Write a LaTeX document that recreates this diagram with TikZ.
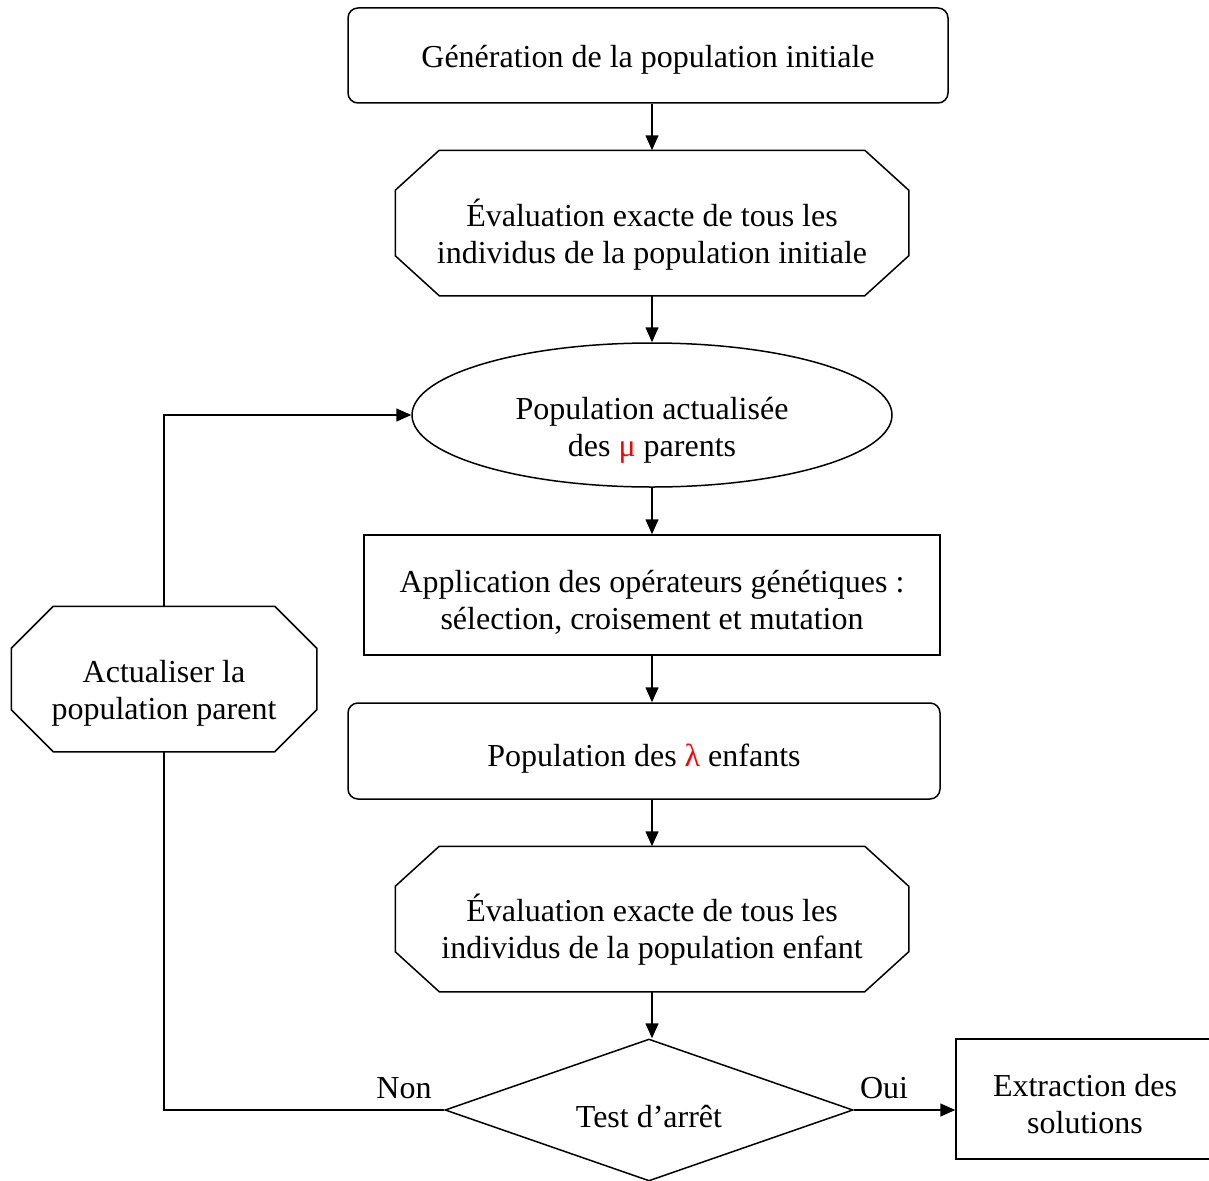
\documentclass[tikz,border=0pt]{standalone}
\usepackage{fontspec}
\setmainfont{Liberation Serif}
\usetikzlibrary{arrows.meta,calc,shapes.geometric}
\newcommand\octagonpath[3]{%
  \draw ($(#1.north west)+(#2,0)$) -- ($(#1.north east)+(-#2,0)$)
    -- ($(#1.north east)+(0,#3)$) -- ($(#1.south east)+(0,-#3)$)
    -- ($(#1.south east)+(-#2,0)$) -- ($(#1.south west)+(#2,0)$)
    -- ($(#1.south west)+(0,-#3)$) -- ($(#1.north west)+(0,#3)$) -- cycle;}
\begin{document}
\begin{tikzpicture}[x=1pt,y=-1pt,line width=1.5pt,
  every node/.style={font=\fontsize{32}{37}\selectfont, align=center, inner sep=0pt},
  arr/.style={-{Triangle[length=15pt,width=13pt]}},
  roundbox/.style={draw, rounded corners=10pt},
  plainbox/.style={draw},
  octbox/.style={draw=none}
]
\useasboundingbox (0,0) rectangle (1209,1180);
\clip (0,0) rectangle (1209,1180);

% shapes
\node[roundbox, minimum width=600pt, minimum height=95pt] (gen) at (648,55.5) {};
\node[octbox, minimum width=512pt, minimum height=144pt] (eval1) at (652,223) {};
\octagonpath{eval1}{44}{40}
\node[draw, ellipse, minimum width=480pt, minimum height=144pt] (pop) at (652,415) {};
\node[plainbox, minimum width=576pt, minimum height=120pt] (appl) at (652,595) {};
\node[roundbox, minimum width=592pt, minimum height=96pt] (enf) at (644,751) {};
\node[octbox, minimum width=512pt, minimum height=144pt] (eval2) at (652,919) {};
\octagonpath{eval2}{44}{40}
\node[draw, diamond, minimum width=408pt, minimum height=142pt, aspect=2.87] (test) at (649,1110) {};
\node[plainbox, minimum width=340pt, minimum height=120pt] (extr) at (1126,1099) {};
\node[octbox, minimum width=304pt, minimum height=144pt] (upd) at (164,679) {};
\octagonpath{upd}{42}{42}

% texts
\node (gen-t) at (648,59.5) {Génération de la population initiale};
\node (eval1-t) at (652,235) {Évaluation exacte de tous les\\individus de la population initiale};
\node (pop-t) at (652,430) {Population actualisée\\des \textcolor{red}{μ} parents};
\node (appl-t) at (652,602) {Application des opérateurs génétiques :\\sélection, croisement et mutation};
\node (enf-t) at (644,759) {Population des \textcolor{red}{λ} enfants};
\node (eval2-t) at (652,930) {Évaluation exacte de tous les\\individus de la population enfant};
\node (test-t) at (649,1117) {Test d’arrêt};
\node (extr-t) at (1085,1104) {Extraction des\\solutions};
\node (upd-t) at (164,693) {Actualiser la\\population parent};
\node (oui) at (884,1088) {Oui};
\node (non) at (404,1088) {Non};

% connectors
\draw[arr] (gen.south -| eval1.north) -- (eval1.north);
\draw[arr] (eval1.south) -- (pop.north);
\draw[arr] (pop.south) -- (appl.north);
\draw[arr] (appl.south) -- (appl.south |- enf.north);
\draw[arr] (enf.south -| eval2.north) -- (eval2.north);
\draw[arr] (eval2.south) -- (eval2.south |- test.north);
\draw[arr] (test.east) -- (test.east -| extr.west);
\draw (test.west) -| (upd.south);
\draw[arr] (upd.north) |- (pop.west);
\end{tikzpicture}
\end{document}
